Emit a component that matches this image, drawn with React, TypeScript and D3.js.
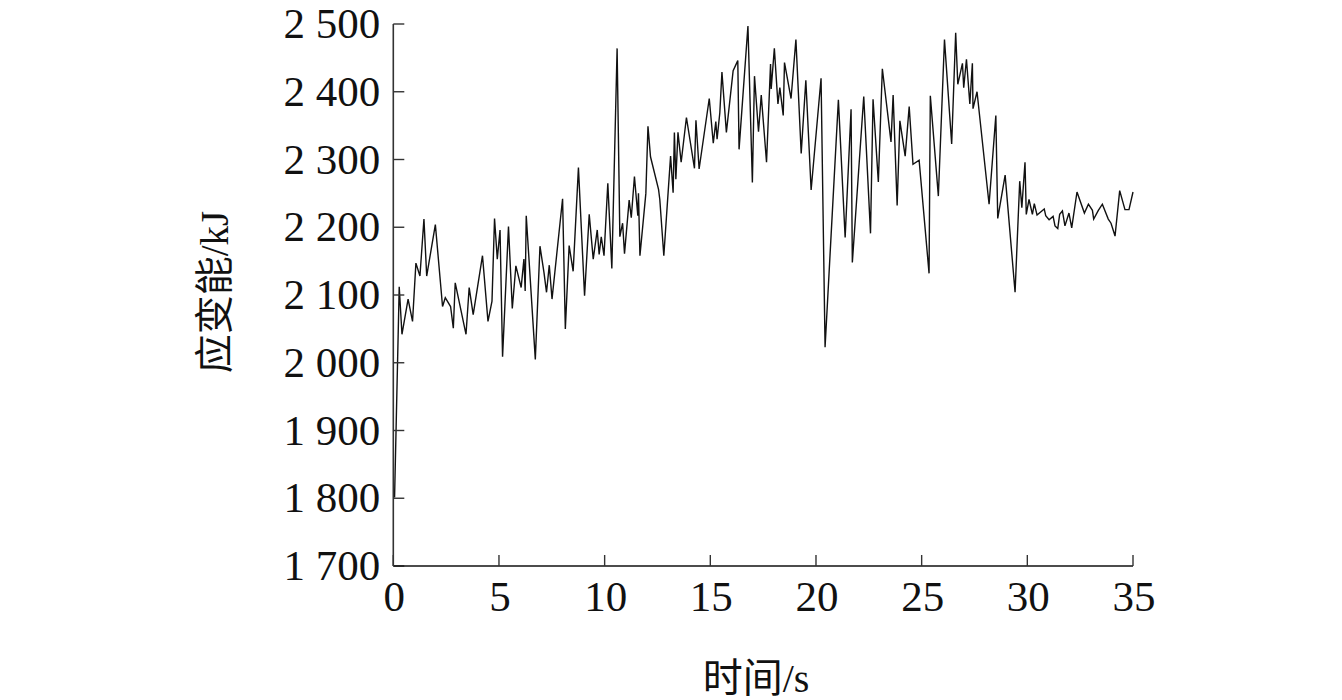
import React from "react";
import * as d3 from "d3";

// time (s)
const times: number[] = [
  0.06, 0.28, 0.41, 0.7, 0.91, 1.07, 1.26, 1.45, 1.58, 1.99, 2.33, 2.46, 2.71, 2.84, 2.93,
  3.44, 3.59, 3.78, 4.22, 4.48, 4.67, 4.79, 4.92, 5.05, 5.17, 5.45, 5.63, 5.8, 6.05, 6.18,
  6.24, 6.29, 6.72, 6.94, 7.13, 7.25, 7.38, 7.51, 8.01, 8.14, 8.32, 8.51, 8.76, 9.05, 9.27,
  9.46, 9.65, 9.74, 9.84, 9.97, 10.15, 10.34, 10.59, 10.72, 10.85, 10.94, 11.16, 11.26, 11.41,
  11.57, 11.6, 11.67, 11.95, 12.05, 12.17, 12.55, 12.61, 12.8, 13.12, 13.24, 13.3, 13.37,
  13.47, 13.62, 13.87, 14.25, 14.32, 14.47, 14.95, 15.14, 15.26, 15.32, 15.45, 15.55, 15.76,
  16.08, 16.3, 16.36, 16.78, 16.99, 17.09, 17.28, 17.41, 17.66, 17.85, 17.88, 18.03, 18.2,
  18.29, 18.45, 18.51, 18.82, 19.05, 19.3, 19.52, 19.77, 20.24, 20.43, 21.06, 21.38, 21.66,
  21.72, 22.26, 22.58, 22.7, 22.95, 23.14, 23.55, 23.65, 23.84, 23.97, 24.22, 24.41, 24.59,
  24.88, 25.35, 25.41, 25.79, 26.08, 26.42, 26.61, 26.71, 26.93, 26.99, 27.12, 27.28, 27.4,
  27.43, 27.62, 28.19, 28.51, 28.6, 28.95, 29.42, 29.64, 29.74, 29.89, 29.95, 30.08, 30.24,
  30.33, 30.46, 30.8, 30.87, 31.03, 31.22, 31.31, 31.44, 31.53, 31.66, 31.78, 31.97, 32.1,
  32.35, 32.7, 32.89, 33.08, 33.14, 33.36, 33.55, 33.83, 33.96, 34.15, 34.37, 34.62, 34.81, 35.0,
];

// strain energy (kJ)
const energy: number[] = [
  1801, 2112, 2042, 2094, 2061, 2147, 2128, 2212, 2128, 2204, 2083, 2096, 2083, 2051, 2118,
  2042, 2111, 2071, 2158, 2061, 2091, 2213, 2153, 2196, 2009, 2201, 2080, 2143, 2111, 2153,
  2106, 2217, 2005, 2172, 2133, 2104, 2144, 2094, 2242, 2050, 2173, 2135, 2288, 2099, 2219,
  2153, 2196, 2160, 2186, 2158, 2265, 2139, 2464, 2186, 2206, 2161, 2240, 2214, 2275,
  2217, 2250, 2158, 2250, 2349, 2304, 2256, 2241, 2158, 2305, 2251, 2340, 2271,
  2340, 2296, 2362, 2287, 2358, 2286, 2390, 2324, 2356, 2330, 2369, 2429, 2340,
  2431, 2446, 2315, 2497, 2266, 2423, 2341, 2395, 2296, 2441, 2404, 2464, 2382,
  2406, 2365, 2443, 2390, 2477, 2309, 2417, 2255, 2420, 2023, 2388, 2185, 2374,
  2148, 2393, 2191, 2389, 2267, 2434, 2326, 2395, 2232, 2357, 2305, 2378, 2293,
  2299, 2132, 2394, 2246, 2477, 2323, 2487, 2411, 2442, 2406, 2448, 2382, 2442,
  2375, 2400, 2234, 2365, 2213, 2277, 2104, 2268, 2229, 2296, 2219, 2241, 2219,
  2235, 2218, 2227, 2217, 2211, 2216, 2202, 2198, 2219, 2224, 2202, 2221, 2199,
  2252, 2221, 2234, 2225, 2212, 2225, 2234, 2212, 2206, 2187, 2254, 2226, 2226, 2252,
];

const xTicks: number[] = [0, 5, 10, 15, 20, 25, 30, 35];
const yTicks: number[] = [1700, 1800, 1900, 2000, 2100, 2200, 2300, 2400, 2500];
const xTitle = "时间/s";
const yTitle = "应变能/kJ";

const W = 1342;
const H = 700;
const left = 393.3;
const right = 1133;
const top = 24;
const bottom = 566;

const fmt = d3
  .formatLocale({ decimal: ".", thousands: " ", grouping: [3], currency: ["", ""] })
  .format(",");

const FONT = "'Liberation Serif', 'Times New Roman', 'Noto Sans CJK SC', serif";

export default function App() {
  const x = d3.scaleLinear().domain([0, 35]).range([left, right]);
  const y = d3.scaleLinear().domain([1700, 2500]).range([bottom, top]);
  const pts: [number, number][] = times.map((t, i) => [t, energy[i]]);
  const line = d3
    .line<[number, number]>()
    .x((d) => x(d[0]))
    .y((d) => y(d[1]));

  const axisColor = "#333";
  const tickLen = 11;

  return (
    <svg
      width={W}
      height={H}
      viewBox={`0 0 ${W} ${H}`}
      style={{ position: "absolute", left: 0, top: 0, background: "#fff" }}
    >
      <rect x={0} y={0} width={W} height={H} fill="#fff" />
      {/* data line */}
      <path d={line(pts) || ""} fill="none" stroke="#111" strokeWidth={1.4} strokeLinejoin="miter" />

      {/* y axis */}
      <line x1={left} x2={left} y1={y(2500)} y2={y(1700)} stroke={axisColor} strokeWidth={1.6} />
      {yTicks.map((v) => (
        <g key={"y" + v}>
          <line x1={left} x2={left + tickLen} y1={y(v)} y2={y(v)} stroke={axisColor} strokeWidth={1.4} />
          <text
            x={left - 13}
            y={y(v) + 14}
            textAnchor="end"
            fontFamily={FONT}
            fontSize={43}
            fill="#111"
          >
            {fmt(v)}
          </text>
        </g>
      ))}

      {/* x axis */}
      <line x1={left} x2={right} y1={bottom} y2={bottom} stroke="#111" strokeWidth={1.6} />
      {xTicks.map((v) => (
        <g key={"x" + v}>
          <line x1={x(v)} x2={x(v)} y1={bottom} y2={bottom - tickLen} stroke={axisColor} strokeWidth={1.4} />
          <text
            x={x(v) + 1}
            y={611}
            textAnchor="middle"
            fontFamily={FONT}
            fontSize={43}
            fill="#111"
          >
            {v}
          </text>
        </g>
      ))}

      {/* titles */}
      <text
        x={756}
        y={692}
        textAnchor="middle"
        fontFamily={FONT}
        fontSize={40}
        fill="#111"
      >
        {xTitle}
      </text>
      <text
        transform={`translate(228, 292) rotate(-90)`}
        textAnchor="middle"
        fontFamily={FONT}
        fontSize={39}
        fill="#111"
      >
        {yTitle}
      </text>
    </svg>
  );
}
